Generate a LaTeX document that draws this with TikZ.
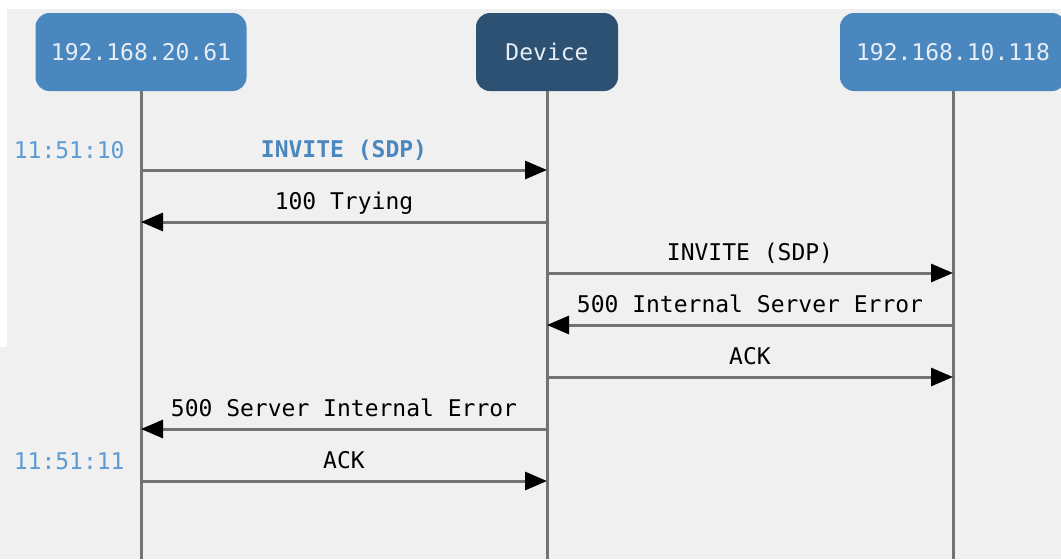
\documentclass[tikz,border=0pt]{standalone}
\usepackage{fontspec}
\setmonofont{DejaVu Sans Mono}
\usepackage{xcolor}
\usetikzlibrary{arrows.meta, positioning}
\definecolor{hostblue}{HTML}{4A87BF}
\definecolor{devblue}{HTML}{2D5173}
\definecolor{boxtext}{HTML}{E6EDF5}
\definecolor{stampblue}{HTML}{5E9BD3}
\definecolor{bggray}{HTML}{F0F0F0}
\tikzstyle{host}     = [rectangle, rounded corners=7pt, minimum height=39pt, inner sep=0pt,
                        text centered, fill=hostblue, text=boxtext]
\tikzstyle{dev}      = [host, fill=devblue, minimum width=71pt]
\tikzstyle{lifeline} = [draw=gray!90!black, line width=1.5pt]
\tikzstyle{msg}      = [draw=black!55, line width=1.5pt, -{Triangle[length=11pt, width=9pt, color=black]}]
\tikzstyle{lbl}      = [above=5.5pt, inner sep=0pt, text depth=0pt, text=black]
\tikzstyle{stamp}    = [anchor=base east, inner sep=0pt, text=stampblue]

\begin{document}
\begin{tikzpicture}[x=0.5pt, y=-0.5pt, font=\ttfamily\fontsize{11.5pt}{13pt}\selectfont]
    \useasboundingbox (0,0) rectangle (1061,559);
    \clip (0,0) rectangle (1061,559);
    \fill[white] (0,0) rectangle (1061,559);
    \fill[bggray] (7,9) rectangle (1061,559);
    \fill[bggray] (0,347) rectangle (7,559);

    % participants
    \node (caller) [host, minimum width=105.5pt] at (141,52) {192.168.20.61};
    \node (device) [dev] at (547,52) {Device};
    \node (callee) [host, minimum width=113pt] at (953,52) {192.168.10.118};

    \coordinate (callerend) at (141,559);
    \coordinate (deviceend) at (547,559);
    \coordinate (calleeend) at (953,559);
    \draw[lifeline] (caller) -- (callerend);
    \draw[lifeline] (device) -- (deviceend);
    \draw[lifeline] (callee) -- (calleeend);

    % message points on the lifelines
    \coordinate (c1) at (141,170); \coordinate (d1) at (547,170);
    \coordinate (c2) at (141,222); \coordinate (d2) at (547,222);
    \coordinate (d3) at (547,273); \coordinate (e3) at (953,273);
    \coordinate (d4) at (547,325); \coordinate (e4) at (953,325);
    \coordinate (d5) at (547,377); \coordinate (e5) at (953,377);
    \coordinate (c6) at (141,429); \coordinate (d6) at (547,429);
    \coordinate (c7) at (141,481); \coordinate (d7) at (547,481);

    \draw[msg] (c1) -- node[lbl, text=hostblue] {\bfseries INVITE (SDP)} (d1);
    \draw[msg] (d2) -- node[lbl] {100 Trying} (c2);
    \draw[msg] (d3) -- node[lbl] {INVITE (SDP)} (e3);
    \draw[msg] (e4) -- node[lbl] {500 Internal Server Error} (d4);
    \draw[msg] (d5) -- node[lbl] {ACK} (e5);
    \draw[msg] (d6) -- node[lbl] {500 Server Internal Error} (c6);
    \draw[msg] (c7) -- node[lbl] {ACK} (d7);

    % timestamps
    \node (t1) [stamp] at (125,158) {11:51:10};
    \node (t2) [stamp] at (125,469) {11:51:11};
\end{tikzpicture}
\end{document}
